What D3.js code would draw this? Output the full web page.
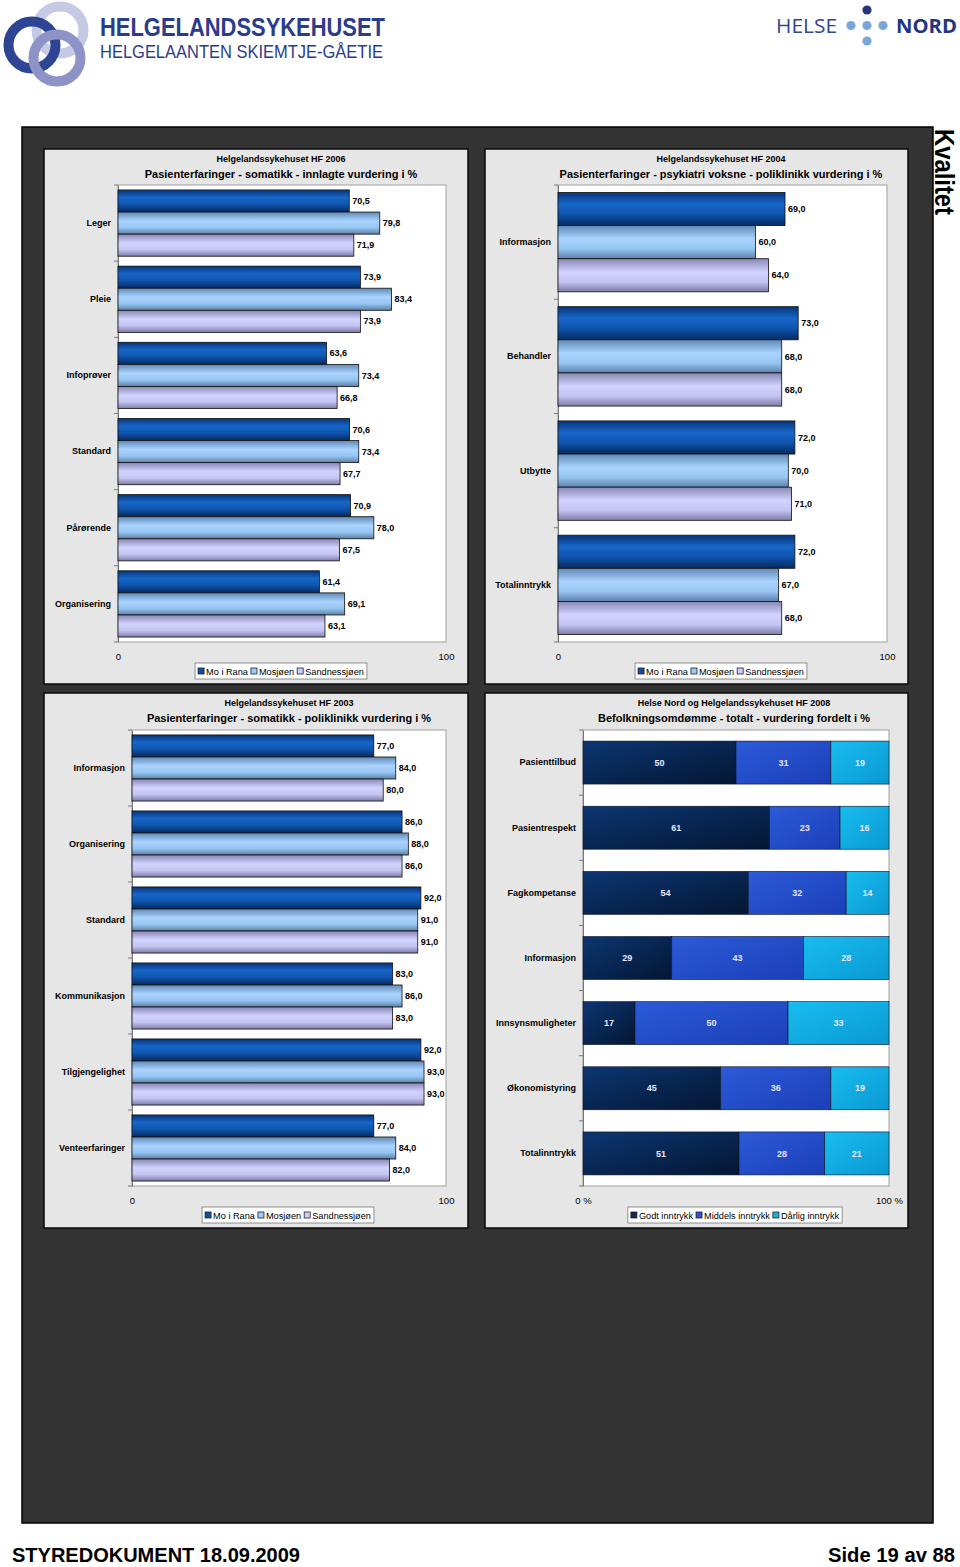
<!DOCTYPE html>
<html>
<head>
<meta charset="utf-8">
<script src="https://cdn.jsdelivr.net/npm/d3@7"></script>
<style>
  body { margin: 0; background: #fff; }
  svg { display: block; font-family: "Liberation Sans", Arial, sans-serif; }
</style>
</head>
<body>
<svg id="page"></svg>
<script>
// ---- data ----
const cityNames = ["Mo i Rana", "Mosjøen", "Sandnessjøen"];

// Pasienterfaringer - somatikk - innlagte (2006)
const innlagteCats = ["Leger", "Pleie", "Infoprøver", "Standard", "Pårørende", "Organisering"];
const innlagteMo = [70.5, 73.9, 63.6, 70.6, 70.9, 61.4];
const innlagteMosj = [79.8, 83.4, 73.4, 73.4, 78.0, 69.1];
const innlagteSand = [71.9, 73.9, 66.8, 67.7, 67.5, 63.1];

// Pasienterfaringer - psykiatri voksne - poliklinikk (2004)
const psykCats = ["Informasjon", "Behandler", "Utbytte", "Totalinntrykk"];
const psykMo = [69.0, 73.0, 72.0, 72.0];
const psykMosj = [60.0, 68.0, 70.0, 67.0];
const psykSand = [64.0, 68.0, 71.0, 68.0];

// Pasienterfaringer - somatikk - poliklinikk (2003)
const polyCats = ["Informasjon", "Organisering", "Standard", "Kommunikasjon", "Tilgjengelighet", "Venteerfaringer"];
const polyMo = [77.0, 86.0, 92.0, 83.0, 92.0, 77.0];
const polyMosj = [84.0, 88.0, 91.0, 86.0, 93.0, 84.0];
const polySand = [80.0, 86.0, 91.0, 83.0, 93.0, 82.0];

// Befolkningsomdømme (2008)
const omdCats = ["Pasienttilbud", "Pasientrespekt", "Fagkompetanse", "Informasjon", "Innsynsmuligheter", "Økonomistyring", "Totalinntrykk"];
const omdSeries = ["Godt inntrykk", "Middels inntrykk", "Dårlig inntrykk"];
const omdGodt = [50, 61, 54, 29, 17, 45, 51];
const omdMiddels = [31, 23, 32, 43, 50, 36, 28];
const omdDarlig = [19, 16, 14, 28, 33, 19, 21];

const valueTicks = [0, 100];

// ---- page ----
const svg = d3.select("#page").attr("width", 960).attr("height", 1567);
const defs = svg.append("defs");

// vertical "cylinder" gradients for the grouped bars
function vGrad(id, stops) {
  const lg = defs.append("linearGradient").attr("id", id)
    .attr("x1", 0).attr("y1", 0).attr("x2", 0).attr("y2", 1);
  stops.forEach(s => lg.append("stop").attr("offset", s[0]).attr("stop-color", s[1]));
}
vGrad("g-mo", [[0, "#06357a"], [0.35, "#1766c8"], [0.65, "#0f55ae"], [1, "#052a62"]]);
vGrad("g-mosj", [[0, "#5f88b6"], [0.4, "#aad4ff"], [0.7, "#97c5f2"], [1, "#5b80aa"]]);
vGrad("g-sand", [[0, "#8987b3"], [0.4, "#d3d3ff"], [0.7, "#c4c4f1"], [1, "#7e7ca9"]]);
const cityFills = ["url(#g-mo)", "url(#g-mosj)", "url(#g-sand)"];
const citySwatch = ["#0b4fa8", "#99ccff", "#ccccff"];

function dGrad(id, c1, c2) {
  const lg = defs.append("linearGradient").attr("id", id)
    .attr("x1", 0).attr("y1", 0).attr("x2", 1).attr("y2", 1);
  lg.append("stop").attr("offset", 0).attr("stop-color", c1);
  lg.append("stop").attr("offset", 1).attr("stop-color", c2);
}
dGrad("g-godt", "#0c3672", "#041633");
dGrad("g-middels", "#2c5ad8", "#1b3fb8");
dGrad("g-darlig", "#18bdf0", "#0a98d2");
const omdFills = ["url(#g-godt)", "url(#g-middels)", "url(#g-darlig)"];
const omdSwatch = ["#0a2a5a", "#2a55d0", "#18b0e0"];

// ---- header ----
const logo = svg.append("g");
[[60, 30, "#c6c9e4"], [32, 45, "#2d4593"], [57, 58, "#8d93c6"]].forEach(c => {
  logo.append("circle").attr("cx", c[0]).attr("cy", c[1]).attr("r", 23.5)
    .attr("fill", "none").attr("stroke", c[2]).attr("stroke-width", 10);
});
logo.append("text").attr("x", 100).attr("y", 36)
  .attr("font-size", 25).attr("font-weight", "bold")
  .attr("fill", "#2b3c8c").attr("textLength", 285).attr("lengthAdjust", "spacingAndGlyphs")
  .text("HELGELANDSSYKEHUSET");
logo.append("text").attr("x", 100).attr("y", 57.5).attr("font-size", 18)
  .attr("fill", "#2b3c8c").attr("textLength", 283).attr("lengthAdjust", "spacingAndGlyphs")
  .text("HELGELAANTEN SKIEMTJE-GÅETIE");

const humanist = "'Open Sans', 'Noto Sans', sans-serif";
const hn = svg.append("g");
hn.append("text").attr("x", 776).attr("y", 33).attr("font-family", humanist).attr("font-size", 20)
  .attr("fill", "#34468e")
  .attr("textLength", 61).attr("lengthAdjust", "spacingAndGlyphs").text("HELSE");
hn.append("text").attr("x", 896).attr("y", 33).attr("font-family", humanist).attr("font-size", 20)
  .attr("font-weight", "bold")
  .attr("fill", "#22357f").attr("textLength", 61).attr("lengthAdjust", "spacingAndGlyphs").text("NORD");
[[867, 10, "#22357f"], [851, 25.5, "#7aa7d8"], [867, 25.5, "#7aa7d8"], [883, 25.5, "#7aa7d8"], [867, 41, "#7aa7d8"]]
  .forEach(d => hn.append("circle").attr("cx", d[0]).attr("cy", d[1]).attr("r", 4.6).attr("fill", d[2]));

// ---- dark panel ----
svg.append("rect").attr("x", 22).attr("y", 127).attr("width", 911).attr("height", 1396)
  .attr("fill", "#333333").attr("stroke", "#000").attr("stroke-width", 1.5);

svg.append("text").attr("transform", "translate(935,129) rotate(90)")
  .attr("font-family", "'Liberation Sans Narrow', 'Liberation Sans', Arial, sans-serif")
  .attr("font-size", 28).attr("font-weight", "bold").attr("fill", "#000")
  .attr("textLength", 86).attr("lengthAdjust", "spacingAndGlyphs").text("Kvalitet");

// ---- helpers ----
function chartBox(b, sub, title) {
  svg.append("rect").attr("x", b.x).attr("y", b.y).attr("width", b.w).attr("height", b.h)
    .attr("fill", "#e6e6e6").attr("stroke", "#0a0a0a").attr("stroke-width", 1.5);
  svg.append("text").attr("x", b.cx).attr("y", b.y + 13).attr("text-anchor", "middle")
    .attr("font-size", 9).attr("font-weight", "bold").text(sub);
  svg.append("text").attr("x", b.cx).attr("y", b.y + 29).attr("text-anchor", "middle")
    .attr("font-size", 11).attr("font-weight", "bold").text(title);
}

function legend(cx, top, names, colors) {
  const g = svg.append("g");
  let xPos = 0;
  names.forEach((n, i) => {
    g.append("rect").attr("x", xPos).attr("y", top + 5).attr("width", 6).attr("height", 6)
      .attr("fill", colors[i]).attr("stroke", "#222").attr("stroke-width", 0.8);
    const t = g.append("text").attr("x", xPos + 8).attr("y", top + 11.5)
      .attr("font-size", 9.2).text(n);
    xPos += 8 + t.node().getComputedTextLength() + 3;
  });
  const w = xPos;
  g.insert("rect", ":first-child").attr("x", -3).attr("y", top).attr("width", w + 3).attr("height", 16)
    .attr("fill", "#fff").attr("stroke", "#777").attr("stroke-width", 0.8);
  g.attr("transform", `translate(${cx - w / 2 + 1.5},0)`);
}

function plotFrame(p, cats, y, tickFmt) {
  svg.append("rect").attr("x", p.x0).attr("y", p.y0).attr("width", p.x1 - p.x0).attr("height", p.y1 - p.y0)
    .attr("fill", "#fff").attr("stroke", "#a0a0a0").attr("stroke-width", 1);

  const ax = svg.append("g").attr("transform", `translate(${p.x0},0)`)
    .call(d3.axisLeft(y).tickSize(0).tickPadding(7));
  ax.select(".domain").attr("stroke", "#777");
  ax.selectAll("text").attr("font-size", 9).attr("font-weight", "bold").attr("fill", "#000")
    .attr("font-family", "'Liberation Sans', Arial, sans-serif");
  // ticks between categories
  const step = (p.y1 - p.y0) / cats.length;
  d3.range(cats.length + 1).forEach(i => {
    svg.append("line").attr("x1", p.x0 - 4).attr("x2", p.x0)
      .attr("y1", p.y0 + i * step).attr("y2", p.y0 + i * step).attr("stroke", "#777");
  });

  const x = d3.scaleLinear().domain([0, 100]).range([p.x0, p.x1]);
  const bx = svg.append("g").attr("transform", `translate(0,${p.y1})`)
    .call(d3.axisBottom(x).tickValues(valueTicks).tickSize(0).tickPadding(11).tickFormat(tickFmt));
  bx.select(".domain").remove();
  bx.selectAll("text").attr("font-size", 9.5).attr("fill", "#000")
    .attr("font-family", "'Liberation Sans', Arial, sans-serif");
  return x;
}

function groupedChart(p, cats, seriesVals) {
  const y = d3.scaleBand().domain(cats).range([p.y0, p.y1]).paddingInner(0.13).paddingOuter(0.065);
  const x = plotFrame(p, cats, y, d => d);
  const ys = d3.scaleBand().domain(d3.range(seriesVals.length)).range([0, y.bandwidth()]);

  const rows = [];
  cats.forEach((c, i) => seriesVals.forEach((vals, s) => rows.push({ c, s, v: vals[i] })));

  svg.append("g").selectAll("rect").data(rows).enter().append("rect")
    .attr("x", x(0))
    .attr("y", d => y(d.c) + ys(d.s))
    .attr("width", d => x(d.v) - x(0))
    .attr("height", ys.bandwidth())
    .attr("fill", d => cityFills[d.s])
    .attr("stroke", "#111").attr("stroke-width", 0.8);

  svg.append("g").selectAll("text").data(rows).enter().append("text")
    .attr("x", d => x(d.v) + 3)
    .attr("y", d => y(d.c) + ys(d.s) + ys.bandwidth() / 2)
    .attr("dy", "0.35em")
    .attr("font-size", 9).attr("font-weight", "bold")
    .text(d => d3.format(".1f")(d.v).replace(".", ","));
}

function stackedChart(p, cats, seriesVals) {
  const y = d3.scaleBand().domain(cats).range([p.y0, p.y1]).paddingInner(0.34).paddingOuter(0.17);
  const x = plotFrame(p, cats, y, d => d + " %");

  const table = cats.map((c, i) => {
    const o = { cat: c };
    seriesVals.forEach((vals, s) => { o["s" + s] = vals[i]; });
    return o;
  });
  const stack = d3.stack().keys(seriesVals.map((v, s) => "s" + s))(table);

  stack.forEach((layer, s) => {
    const g = svg.append("g");
    g.selectAll("rect").data(layer).enter().append("rect")
      .attr("x", d => x(d[0]))
      .attr("y", d => y(d.data.cat))
      .attr("width", d => x(d[1]) - x(d[0]))
      .attr("height", y.bandwidth())
      .attr("fill", omdFills[s])
      .attr("stroke", "#0a1428").attr("stroke-width", 0.6);
    g.selectAll("text").data(layer).enter().append("text")
      .attr("x", d => (x(d[0]) + x(d[1])) / 2)
      .attr("y", d => y(d.data.cat) + y.bandwidth() / 2)
      .attr("dy", "0.35em").attr("text-anchor", "middle")
      .attr("font-size", 9).attr("font-weight", "bold").attr("fill", "#e6e6ff")
      .text(d => d[1] - d[0]);
  });
}

// ---- chart 1 ----
chartBox({ x: 44, y: 149, w: 424, h: 535, cx: 281 }, "Helgelandssykehuset HF 2006",
  "Pasienterfaringer - somatikk - innlagte vurdering i %");
groupedChart({ x0: 118, x1: 446, y0: 185, y1: 642 }, innlagteCats, [innlagteMo, innlagteMosj, innlagteSand]);
legend(281, 663, cityNames, citySwatch);

// ---- chart 2 ----
chartBox({ x: 485, y: 149, w: 423, h: 535, cx: 721 }, "Helgelandssykehuset HF 2004",
  "Pasienterfaringer - psykiatri voksne - poliklinikk vurdering i %");
groupedChart({ x0: 558, x1: 887, y0: 185, y1: 642 }, psykCats, [psykMo, psykMosj, psykSand]);
legend(721, 663, cityNames, citySwatch);

// ---- chart 3 ----
chartBox({ x: 44, y: 693, w: 424, h: 535, cx: 289 }, "Helgelandssykehuset HF 2003",
  "Pasienterfaringer - somatikk - poliklinikk vurdering i %");
groupedChart({ x0: 132, x1: 446, y0: 730, y1: 1186 }, polyCats, [polyMo, polyMosj, polySand]);
legend(288, 1207, cityNames, citySwatch);

// ---- chart 4 ----
chartBox({ x: 485, y: 693, w: 423, h: 535, cx: 734 }, "Helse Nord og Helgelandssykehuset HF 2008",
  "Befolkningsomdømme - totalt - vurdering fordelt i %");
stackedChart({ x0: 583, x1: 889, y0: 730, y1: 1186 }, omdCats, [omdGodt, omdMiddels, omdDarlig]);
legend(735, 1207, omdSeries, omdSwatch);

// ---- footer ----
const narrow = "'Liberation Sans Narrow', 'Liberation Sans', Arial, sans-serif";
svg.append("text").attr("x", 12).attr("y", 1562).attr("font-family", narrow)
  .attr("font-size", 21).attr("font-weight", "bold")
  .attr("textLength", 288).attr("lengthAdjust", "spacingAndGlyphs").text("STYREDOKUMENT 18.09.2009");
svg.append("text").attr("x", 828).attr("y", 1562).attr("font-family", narrow)
  .attr("font-size", 21).attr("font-weight", "bold")
  .attr("textLength", 127).attr("lengthAdjust", "spacingAndGlyphs").text("Side 19 av 88");
</script>
</body>
</html>
